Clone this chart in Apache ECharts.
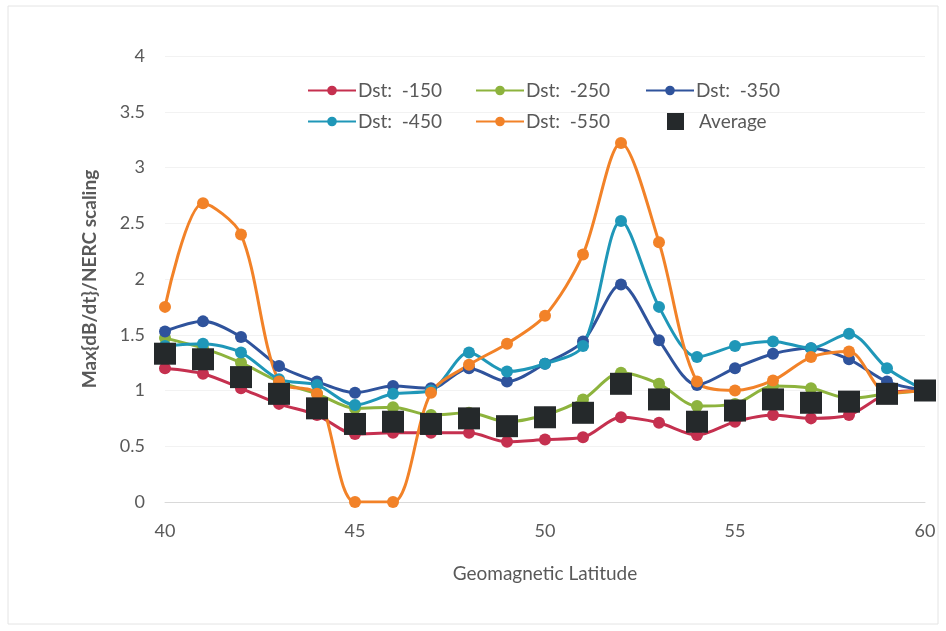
<!DOCTYPE html>
<html><head><meta charset="utf-8">
<script src="https://cdn.jsdelivr.net/npm/echarts@6/dist/echarts.min.js"></script>
<style>html,body{margin:0;padding:0;background:#fff}#c{width:946px;height:631px}</style>
</head><body><div id="c"></div>
<script>
const latitudes = [40,41,42,43,44,45,46,47,48,49,50,51,52,53,54,55,56,57,58,59,60];
const dst150 = [1.20,1.15,1.02,0.88,0.78,0.61,0.62,0.62,0.62,0.54,0.56,0.58,0.76,0.71,0.60,0.72,0.78,0.75,0.78,0.97,1.00];
const dst250 = [1.47,1.38,1.25,1.08,0.97,0.84,0.85,0.78,0.80,0.72,0.78,0.92,1.16,1.06,0.86,0.88,1.04,1.02,0.93,0.97,1.00];
const dst350 = [1.53,1.62,1.48,1.22,1.08,0.98,1.04,1.02,1.20,1.08,1.24,1.44,1.95,1.45,1.05,1.20,1.33,1.38,1.28,1.08,1.00];
const dst450 = [1.40,1.42,1.34,1.10,1.05,0.87,0.97,1.00,1.34,1.17,1.24,1.40,2.52,1.75,1.30,1.40,1.44,1.38,1.51,1.20,1.00];
const dst550 = [1.75,2.68,2.40,1.08,0.97,0.00,0.00,0.98,1.23,1.42,1.67,2.22,3.22,2.33,1.08,1.00,1.09,1.30,1.35,0.98,1.00];
const average = [1.33,1.28,1.12,0.97,0.84,0.70,0.72,0.70,0.75,0.68,0.76,0.80,1.06,0.92,0.72,0.82,0.92,0.89,0.90,0.97,1.00];
const seriesNames = ['Dst:  -150','Dst:  -250','Dst:  -350','Dst:  -450','Dst:  -550','Average'];
const xTicks = {min:40, max:60, interval:5};
const yTicks = {min:0, max:4, interval:0.5};

const pair = arr => latitudes.map((x,i)=>[x,arr[i]]);
const FONT = 'Lato, "Open Sans", sans-serif';
const lineSeries = (name, arr, color) => ({
  name, type:'line', data:pair(arr), smooth:0.3, symbol:'circle', symbolSize:12,
  lineStyle:{color, width:3}, itemStyle:{color}, z:2
});
const legendPos = [[302,76],[470,76],[640,76],[302,107],[470,107],[662,107]];
const legends = seriesNames.map((n,i)=>({
  data:[n], left:legendPos[i][0], top:legendPos[i][1],
  itemWidth: n==='Average' ? 17 : 48, itemHeight: n==='Average' ? 17 : 12,
  textStyle:{fontFamily:FONT, fontSize:19, color:'#595959', padding: n==='Average' ? [0,0,0,10] : [0,0,0,-3]}
}));
const chart = echarts.init(document.getElementById('c'));
chart.setOption({
  backgroundColor:'#fff',
  animation:false,
  graphic:[{type:'rect', shape:{x:8,y:6,width:930,height:618}, style:{fill:'none', stroke:'#e4e4e4', lineWidth:1}, silent:true}],
  grid:{left:165, right:21, top:56, bottom:129},
  legend:legends,
  xAxis:{type:'value', min:xTicks.min, max:xTicks.max, interval:xTicks.interval,
    name:'Geomagnetic Latitude', nameLocation:'middle', nameGap:62,
    nameTextStyle:{fontFamily:FONT, fontSize:19, color:'#595959'},
    axisLine:{lineStyle:{color:'#d9d9d9'}}, axisTick:{show:false},
    axisLabel:{fontFamily:FONT, fontSize:18, color:'#595959', margin:20},
    splitLine:{show:false}},
  yAxis:{type:'value', min:yTicks.min, max:yTicks.max, interval:yTicks.interval,
    name:'Max{dB/dt}/NERC scaling', nameLocation:'middle', nameGap:66,
    nameTextStyle:{fontFamily:FONT, fontSize:19, color:'#595959', fontWeight:'bold'},
    axisLine:{show:false}, axisTick:{show:false},
    axisLabel:{fontFamily:FONT, fontSize:18, color:'#595959', margin:20},
    splitLine:{lineStyle:{color:'#f2f2f2'}}},
  series:[
    lineSeries(seriesNames[0], dst150, '#c5304f'),
    lineSeries(seriesNames[1], dst250, '#8db33d'),
    lineSeries(seriesNames[2], dst350, '#2f539c'),
    lineSeries(seriesNames[3], dst450, '#1f97b8'),
    lineSeries(seriesNames[4], dst550, '#f28228'),
    {name:seriesNames[5], type:'scatter', data:pair(average), symbol:'rect', symbolSize:22,
     itemStyle:{color:'#25292b', opacity:1}, z:5}
  ]
});
</script></body></html>
